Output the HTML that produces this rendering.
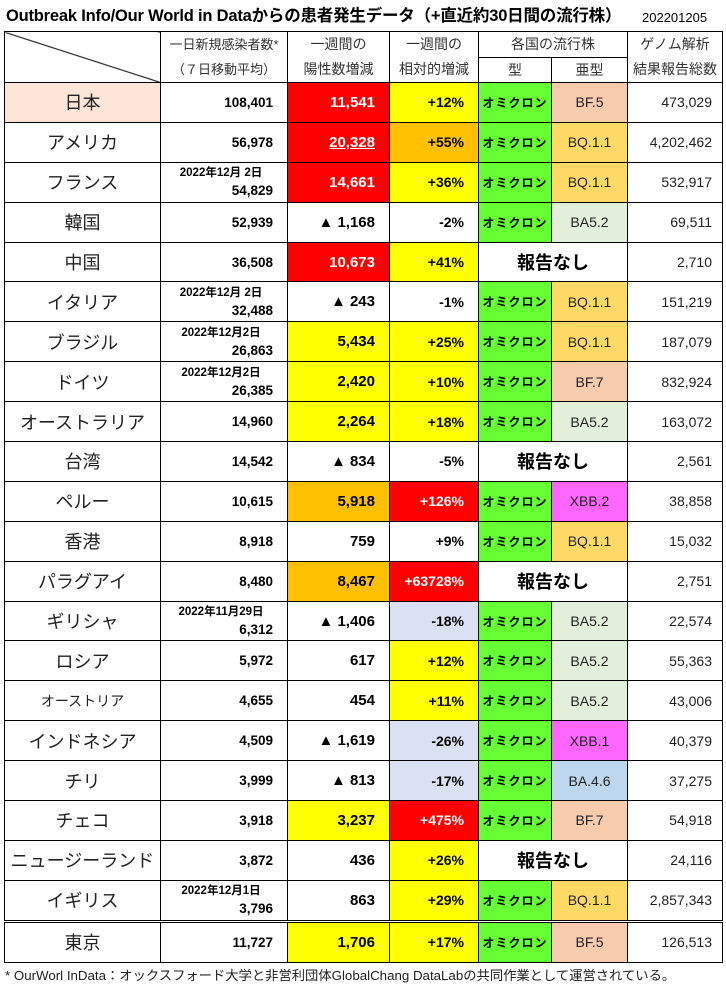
<!DOCTYPE html>
<html><head><meta charset="utf-8"><style>
body{margin:0;width:726px;height:988px;background:#fff;font-family:"Liberation Sans","Noto Sans CJK JP",sans-serif;position:relative;overflow:hidden}
.t{position:absolute;top:2px;left:6px;font-size:16.5px;font-weight:bold;color:#000;white-space:nowrap;letter-spacing:-0.2px}
.d{position:absolute;top:10px;left:642px;font-size:13px}
table{position:absolute;left:4px;top:31px;border-collapse:collapse;table-layout:fixed}
td{border:1.3px solid #000;padding:0;overflow:hidden;white-space:nowrap}
tr.r td{height:38.9px}
.h{font-size:13px;color:#333;text-align:center}
.n{text-align:center;font-size:18px;color:#222}
.b{font-weight:bold;font-size:13.5px;text-align:right;padding-right:14px}
.w{font-weight:bold;font-size:15px;text-align:right;padding-right:14px}
.p{font-weight:bold;font-size:14px;text-align:right;padding-right:14px}
.o{background:#66ff33;font-weight:bold;font-size:12px;text-align:center;letter-spacing:1px}
.s{text-align:center;font-size:14px;color:#222}
.g{text-align:right;font-size:14px;padding-right:10px;color:#222}
.nr{text-align:center;font-weight:bold;font-size:18px}
.dt{font-weight:bold;font-size:13.5px;text-align:right;padding-right:14px;line-height:18px}
.dt span{display:block;text-align:center;padding-left:0;padding-right:0;font-size:11.5px;margin-right:-8px}
.R{background:#ff0000;color:#fff}.Y{background:#ffff00}.O{background:#ffc000}.L{background:#d9e1f2}
.BQ{background:#ffd966}.BF{background:#f8cbad}.BA{background:#e2efda}.X{background:#ff66ff}.B46{background:#bdd7ee}
.f{position:absolute;top:965px;left:5px;font-size:13.3px;color:#222;white-space:nowrap}
</style></head><body>
<div class="t">Outbreak Info/Our World in Dataからの患者発生データ（+直近約30日間の流行株）</div>
<div class="d">202201205</div>
<table>
<colgroup><col style="width:156px"><col style="width:127px"><col style="width:102px"><col style="width:89px"><col style="width:73px"><col style="width:76px"><col style="width:95px"></colgroup>
<tr style="height:25px"><td rowspan="2" style="background:linear-gradient(to bottom left,transparent calc(50% - 1px),#000 50%,transparent calc(50% + 1px))"></td><td class="h" rowspan="2" style="line-height:25px">一日新規感染者数*<br>（７日移動平均）</td><td class="h" rowspan="2" style="font-size:14px;line-height:25px">一週間の<br>陽性数増減</td><td class="h" rowspan="2" style="font-size:14px;line-height:25px">一週間の<br>相対的増減</td><td class="h" colspan="2" style="font-size:14px">各国の流行株</td><td class="h" rowspan="2" style="font-size:14px;line-height:25px">ゲノム解析<br>結果報告総数</td></tr>
<tr style="height:25px"><td class="h" style="font-size:14px">型</td><td class="h" style="font-size:14px">亜型</td></tr>
<tr class="r"><td class="n" style="background:#fce4d6">日本</td><td class="b">108,401</td><td class="w R">11,541</td><td class="p Y">+12%</td><td class="o">オミクロン</td><td class="s BF">BF.5</td><td class="g">473,029</td></tr>
<tr class="r"><td class="n">アメリカ</td><td class="b">56,978</td><td class="w R"><u>20,328</u></td><td class="p O">+55%</td><td class="o">オミクロン</td><td class="s BQ">BQ.1.1</td><td class="g">4,202,462</td></tr>
<tr class="r"><td class="n">フランス</td><td class="dt"><span>2022年12月 2日</span>54,829</td><td class="w R">14,661</td><td class="p Y">+36%</td><td class="o">オミクロン</td><td class="s BQ">BQ.1.1</td><td class="g">532,917</td></tr>
<tr class="r"><td class="n">韓国</td><td class="b">52,939</td><td class="w">▲ 1,168</td><td class="p">-2%</td><td class="o">オミクロン</td><td class="s BA">BA5.2</td><td class="g">69,511</td></tr>
<tr class="r"><td class="n">中国</td><td class="b">36,508</td><td class="w R">10,673</td><td class="p Y">+41%</td><td class="nr" colspan="2">報告なし</td><td class="g">2,710</td></tr>
<tr class="r"><td class="n">イタリア</td><td class="dt"><span>2022年12月 2日</span>32,488</td><td class="w">▲ 243</td><td class="p">-1%</td><td class="o">オミクロン</td><td class="s BQ">BQ.1.1</td><td class="g">151,219</td></tr>
<tr class="r"><td class="n">ブラジル</td><td class="dt"><span>2022年12月2日</span>26,863</td><td class="w Y">5,434</td><td class="p Y">+25%</td><td class="o">オミクロン</td><td class="s BQ">BQ.1.1</td><td class="g">187,079</td></tr>
<tr class="r"><td class="n">ドイツ</td><td class="dt"><span>2022年12月2日</span>26,385</td><td class="w Y">2,420</td><td class="p Y">+10%</td><td class="o">オミクロン</td><td class="s BF">BF.7</td><td class="g">832,924</td></tr>
<tr class="r"><td class="n">オーストラリア</td><td class="b">14,960</td><td class="w Y">2,264</td><td class="p Y">+18%</td><td class="o">オミクロン</td><td class="s BA">BA5.2</td><td class="g">163,072</td></tr>
<tr class="r"><td class="n">台湾</td><td class="b">14,542</td><td class="w">▲ 834</td><td class="p">-5%</td><td class="nr" colspan="2">報告なし</td><td class="g">2,561</td></tr>
<tr class="r"><td class="n">ペルー</td><td class="b">10,615</td><td class="w O">5,918</td><td class="p R">+126%</td><td class="o">オミクロン</td><td class="s X">XBB.2</td><td class="g">38,858</td></tr>
<tr class="r"><td class="n">香港</td><td class="b">8,918</td><td class="w">759</td><td class="p">+9%</td><td class="o">オミクロン</td><td class="s BQ">BQ.1.1</td><td class="g">15,032</td></tr>
<tr class="r"><td class="n">パラグアイ</td><td class="b">8,480</td><td class="w O">8,467</td><td class="p R">+63728%</td><td class="nr" colspan="2">報告なし</td><td class="g">2,751</td></tr>
<tr class="r"><td class="n">ギリシャ</td><td class="dt"><span>2022年11月29日</span>6,312</td><td class="w">▲ 1,406</td><td class="p L">-18%</td><td class="o">オミクロン</td><td class="s BA">BA5.2</td><td class="g">22,574</td></tr>
<tr class="r"><td class="n">ロシア</td><td class="b">5,972</td><td class="w">617</td><td class="p Y">+12%</td><td class="o">オミクロン</td><td class="s BA">BA5.2</td><td class="g">55,363</td></tr>
<tr class="r"><td class="n" style="font-size:14px">オーストリア</td><td class="b">4,655</td><td class="w">454</td><td class="p Y">+11%</td><td class="o">オミクロン</td><td class="s BA">BA5.2</td><td class="g">43,006</td></tr>
<tr class="r"><td class="n">インドネシア</td><td class="b">4,509</td><td class="w">▲ 1,619</td><td class="p L">-26%</td><td class="o">オミクロン</td><td class="s X">XBB.1</td><td class="g">40,379</td></tr>
<tr class="r"><td class="n">チリ</td><td class="b">3,999</td><td class="w">▲ 813</td><td class="p L">-17%</td><td class="o">オミクロン</td><td class="s B46">BA.4.6</td><td class="g">37,275</td></tr>
<tr class="r"><td class="n">チェコ</td><td class="b">3,918</td><td class="w Y">3,237</td><td class="p R">+475%</td><td class="o">オミクロン</td><td class="s BF">BF.7</td><td class="g">54,918</td></tr>
<tr class="r"><td class="n">ニュージーランド</td><td class="b">3,872</td><td class="w">436</td><td class="p Y">+26%</td><td class="nr" colspan="2">報告なし</td><td class="g">24,116</td></tr>
<tr class="r"><td class="n">イギリス</td><td class="dt"><span>2022年12月1日</span>3,796</td><td class="w">863</td><td class="p Y">+29%</td><td class="o">オミクロン</td><td class="s BQ">BQ.1.1</td><td class="g">2,857,343</td></tr>
<tr class="r" style="border-top:3px double #000"><td class="n">東京</td><td class="b">11,727</td><td class="w Y">1,706</td><td class="p Y">+17%</td><td class="o">オミクロン</td><td class="s BF">BF.5</td><td class="g">126,513</td></tr>
</table>
<div class="f">* OurWorl InData：オックスフォード大学と非営利団体GlobalChang DataLabの共同作業として運営されている。</div>
</body></html>
